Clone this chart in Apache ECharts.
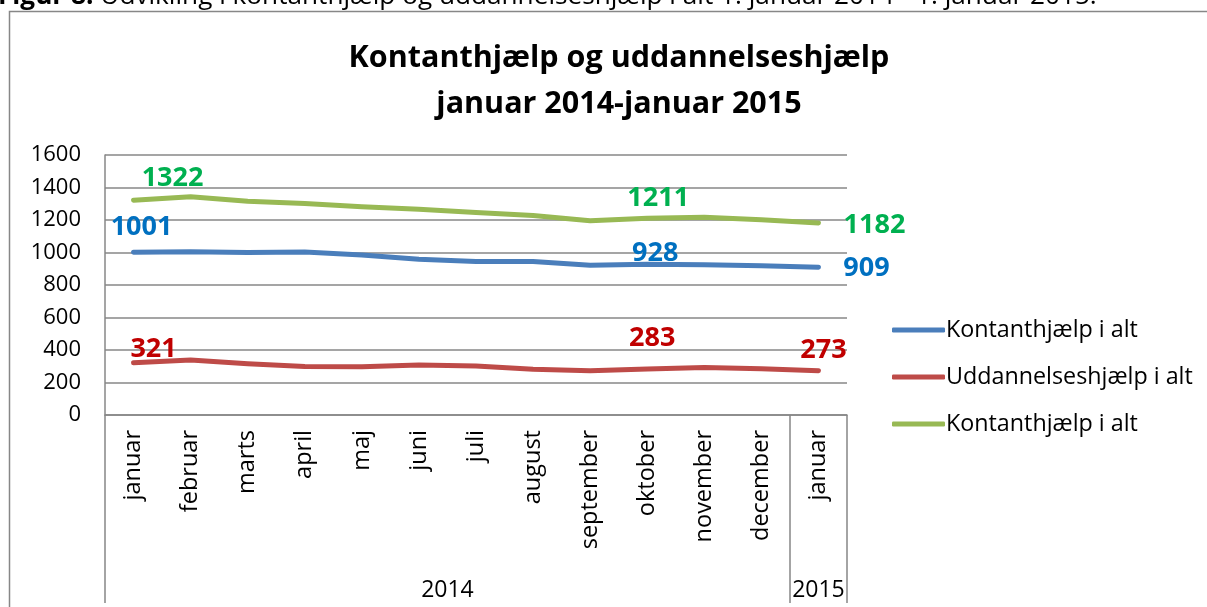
<!DOCTYPE html>
<html>
<head>
<meta charset="utf-8">
<script src="https://cdn.jsdelivr.net/npm/echarts@6/dist/echarts.min.js"></script>
<style>
html,body{margin:0;padding:0;background:#fff;}
#chart{width:1207px;height:607px;}
</style>
</head>
<body>
<div id="chart"></div>
<script>
// ---- data ----
const months = ['januar','februar','marts','april','maj','juni','juli','august','september','oktober','november','december','januar'];
const years = ['2014', '2015'];
const yearCenters = [6, 12.5];        // position on the month scale (in category units)
const yearBounds = [0, 12, 13];       // group separators (in category units)
const kontant = [1001, 1005, 1000, 1003, 985, 958, 945, 945, 922, 928, 925, 918, 909];
const uddannelse = [321, 338, 315, 298, 297, 308, 301, 282, 273, 283, 292, 284, 273];
const total = [1322, 1343, 1315, 1301, 1282, 1266, 1246, 1227, 1195, 1211, 1217, 1202, 1182];
const yTicks = [0, 200, 400, 600, 800, 1000, 1200, 1400, 1600];
const seriesNames = ['Kontanthjælp i alt', 'Uddannelseshjælp i alt', 'Kontanthjælp i alt\u200b'];
const titleText = 'Kontanthjælp og uddannelseshjælp\njanuar 2014-januar 2015';
const captionBold = 'Figur 8.';
const captionText = ' Udvikling i kontanthjælp og uddannelseshjælp i alt 1. januar 2014 - 1. januar 2015.';

// ---- styling ----
const FONT = "'Open Sans', 'Noto Sans', sans-serif";
const lineColors = ['#4A7EBB', '#BE4B48', '#98B954'];
const labelColors = ['#0070C0', '#C00000', '#00B050'];
const labelIdx = [0, 9, 12];
const labelOffsets = [
  [[8, -25], [8, -11], [48, 1]],
  [[20, -14], [5, -31], [5, -20]],
  [[39, -22], [11, -20], [56, 2]]
];
const GRAY = '#878787';

function buildData(values, s) {
  return values.map((v, i) => {
    const k = labelIdx.indexOf(i);
    if (k < 0) return v;
    return {
      value: v,
      label: {
        show: true,
        position: 'inside',
        offset: labelOffsets[s][k],
        color: labelColors[s],
        fontFamily: FONT,
        fontWeight: 'bold',
        fontSize: 27
      }
    };
  });
}

const allValues = [kontant, uddannelse, total];
const chart = echarts.init(document.getElementById('chart'), null, {renderer: 'canvas'});
chart.setOption({
  animation: false,
  backgroundColor: '#fff',
  title: {
    text: titleText,
    left: 614,
    textAlign: 'center',
    top: 30,
    textStyle: {fontFamily: FONT, fontWeight: 'bold', fontSize: 30.5, lineHeight: 46, color: '#000'}
  },
  graphic: [
    {type: 'rect', shape: {x: 9.5, y: 11.5, width: 1400, height: 800},
     style: {fill: 'none', stroke: GRAY, lineWidth: 1.5}, silent: true},
    {type: 'text', left: -2, top: -16, silent: true,
     style: {text: '{b|' + captionBold + '}' + captionText, fontFamily: FONT, fontSize: 26.2, fill: '#000',
       rich: {b: {fontFamily: FONT, fontSize: 26.2, fontWeight: 'bold', fill: '#000'}}}}
  ],
  legend: {
    orient: 'vertical',
    left: 887,
    top: 312,
    itemWidth: 53,
    itemHeight: 5,
    itemGap: 21,
    icon: 'roundRect',
    textStyle: {fontFamily: FONT, fontSize: 23.3, color: '#000', lineHeight: 26, padding: [0, 0, 0, -4]},
    data: seriesNames
  },
  grid: {left: 105, right: 360, top: 155, bottom: 192, containLabel: false},
  xAxis: [
    {
      type: 'category',
      data: months,
      boundaryGap: true,
      axisLine: {show: true, lineStyle: {color: GRAY, width: 1.5}},
      axisTick: {show: false},
      axisLabel: {rotate: 90, margin: 15, fontFamily: FONT, fontSize: 23.5, color: '#000', interval: 0}
    },
    {
      type: 'value',
      min: 0,
      max: 13,
      position: 'bottom',
      axisLine: {show: false},
      splitLine: {show: false},
      axisTick: {show: true, customValues: yearBounds, length: 188, lineStyle: {color: GRAY, width: 1.5}},
      axisLabel: {
        customValues: yearCenters,
        margin: 164,
        fontFamily: FONT, fontSize: 23, color: '#000',
        formatter: v => years[yearCenters.indexOf(v)]
      }
    }
  ],
  yAxis: {
    type: 'value',
    min: yTicks[0],
    max: yTicks[yTicks.length - 1],
    interval: 200,
    axisLine: {show: true, lineStyle: {color: GRAY, width: 1.5}},
    axisTick: {show: false},
    splitLine: {show: true, lineStyle: {color: GRAY, width: 1.5}},
    axisLabel: {margin: 24, fontFamily: FONT, fontSize: 22, color: '#000', formatter: v => String(v)}
  },
  series: allValues.map((vals, s) => ({
    name: seriesNames[s],
    type: 'line',
    xAxisIndex: 0,
    data: buildData(vals, s),
    showSymbol: true,
    symbol: 'circle',
    symbolSize: 1,
    itemStyle: {color: lineColors[s]},
    lineStyle: {color: lineColors[s], width: 5, cap: 'round', join: 'round'},
    label: {show: false},
    z: 3 + s
  }))
});
</script>
</body>
</html>
